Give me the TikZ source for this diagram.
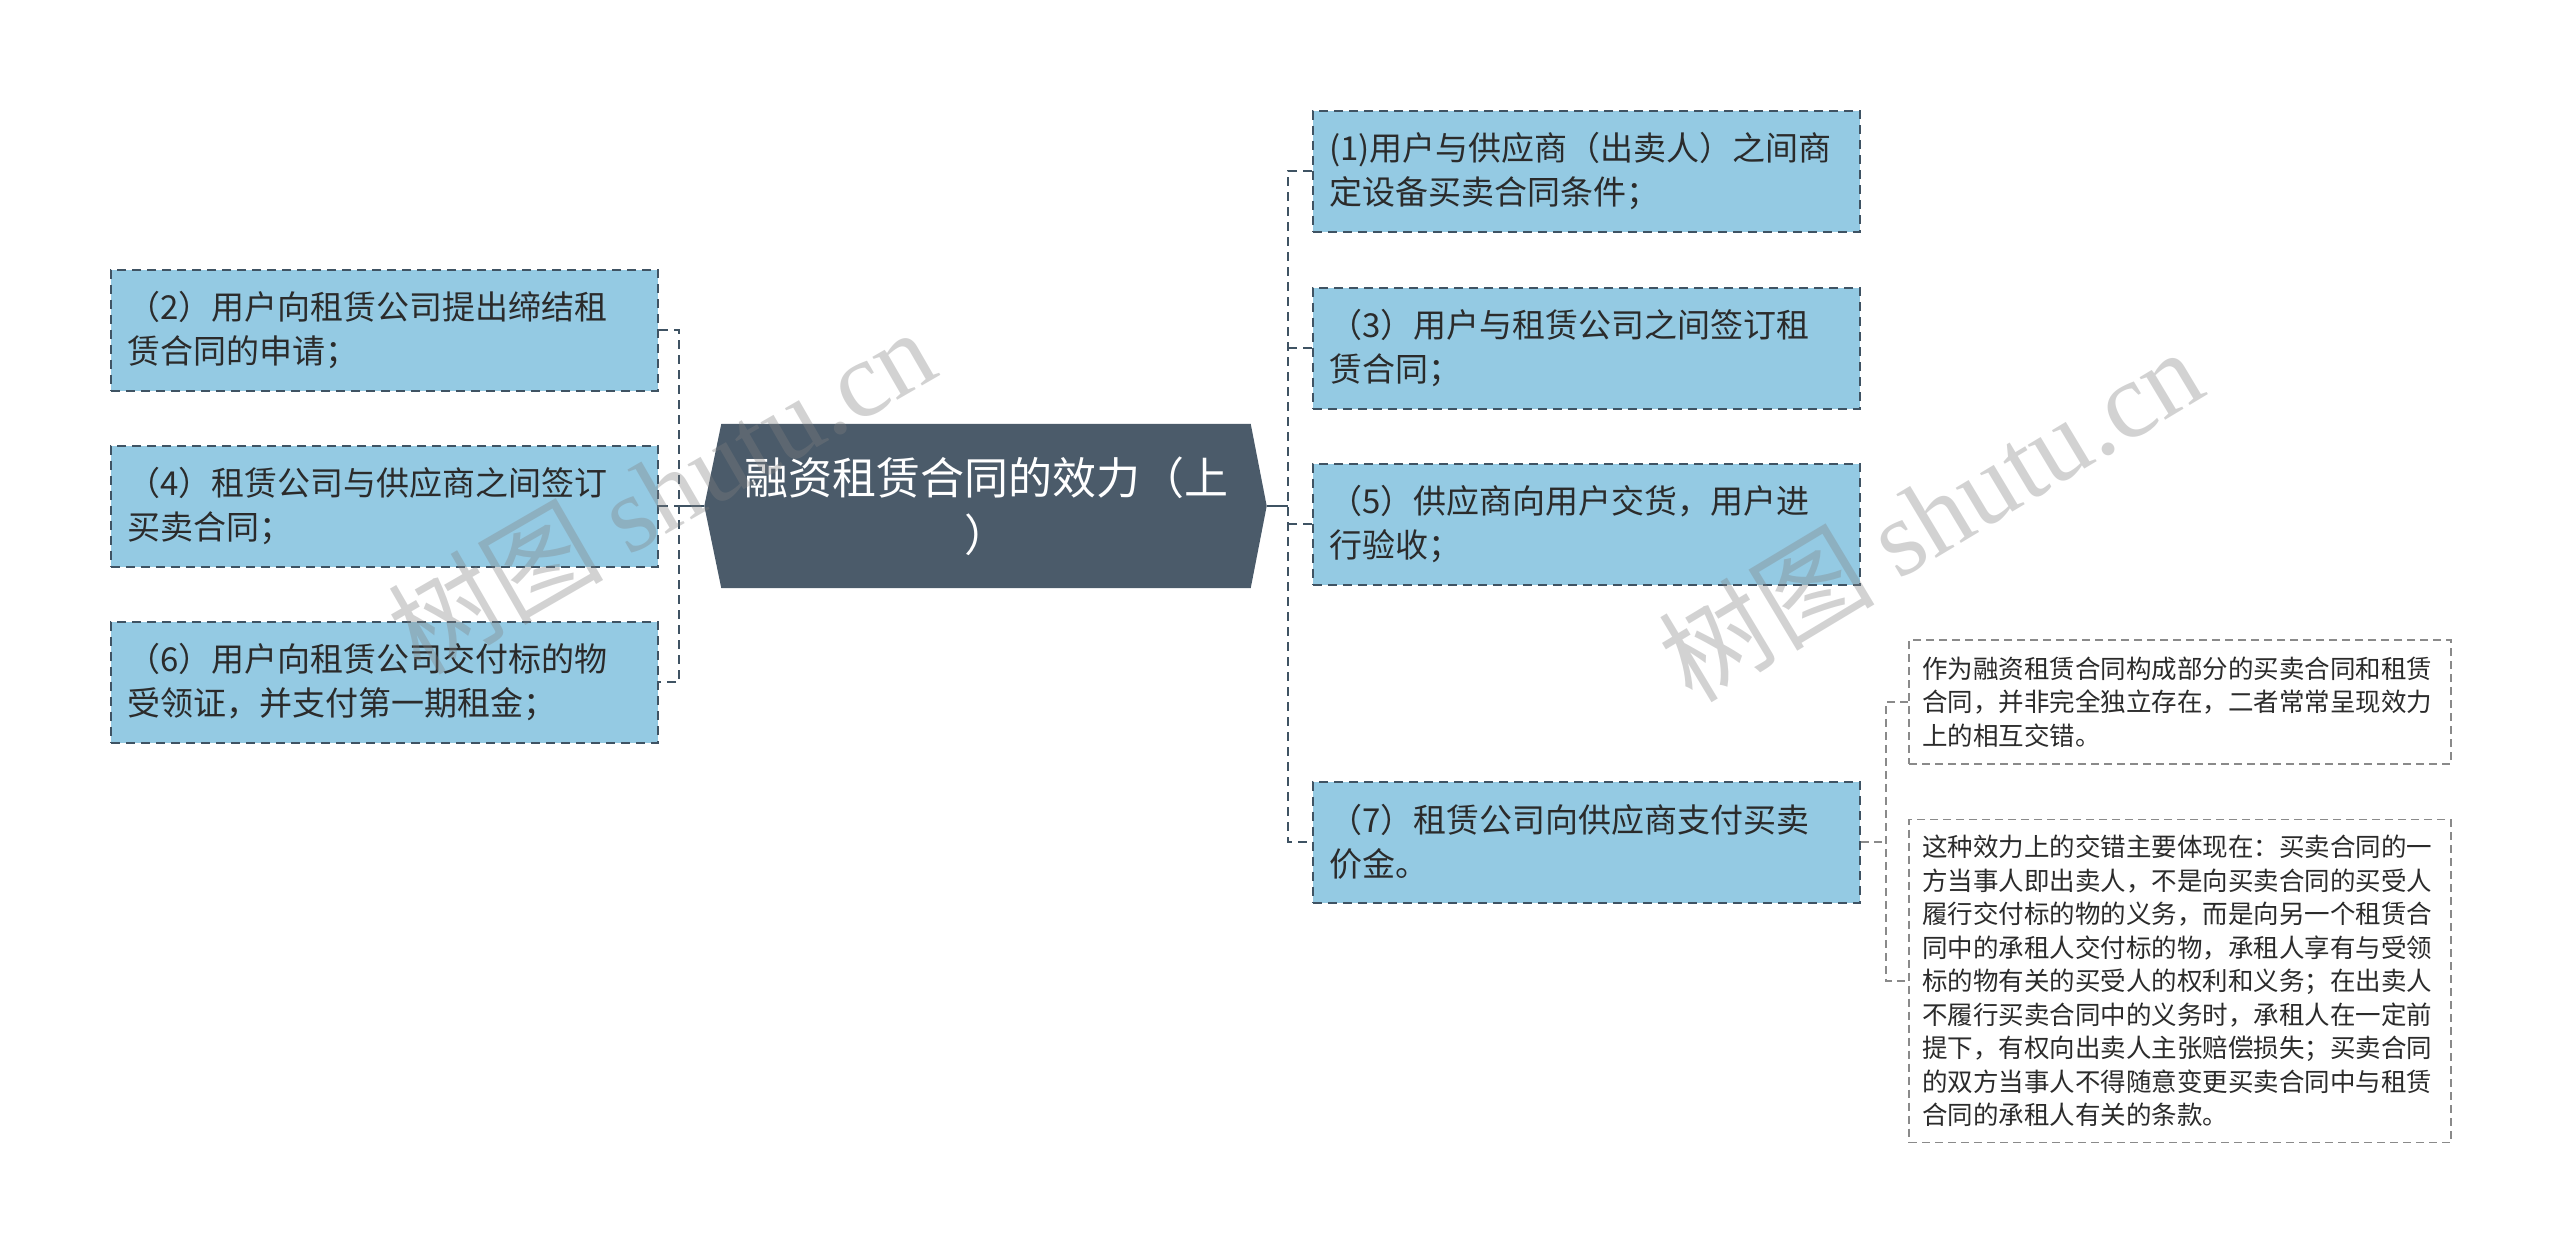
\documentclass[tikz,border=0pt]{standalone}
\usepackage{fontspec}
\setmainfont{Noto Sans CJK SC}
\newfontfamily\wmlatin{Liberation Serif}
\usetikzlibrary{backgrounds,calc}
\definecolor{boxfill}{HTML}{94CAE3}
\definecolor{boxline}{HTML}{3F5363}
\definecolor{hubfill}{HTML}{4B5B6A}
\definecolor{txt}{HTML}{2B2B2B}
\definecolor{farline}{HTML}{8A8A8A}
\begin{document}
\begin{tikzpicture}[x=1pt,y=-1pt,
  item/.style={draw=boxline, fill=boxfill, dash pattern=on 9pt off 6pt, line width=2pt,
    minimum width=547pt, minimum height=121pt, text width=515pt, align=left,
    inner sep=16pt, font=\fontsize{33}{44}\selectfont, text=txt},
  far/.style={draw=farline, fill=white, dash pattern=on 8pt off 5pt, line width=1.8pt,
    minimum width=542pt, text width=516pt, align=left,
    inner sep=13pt, font=\fontsize{25.5}{33.5}\selectfont, text=txt},
  hub/.style={minimum width=529pt, minimum height=164pt, inner sep=0pt, align=center,
    text=white, font=\fontsize{44}{57}\selectfont},
  conn/.style={draw=boxline, line width=2.5pt, dash pattern=on 9pt off 6pt},
  subconn/.style={draw=farline, line width=1.8pt, dash pattern=on 8pt off 5pt},
  hubline/.style={draw=boxline, line width=2.5pt},
  wmark/.style={text=gray, opacity=0.35, font=\fontsize{108}{108}\selectfont}
]
\useasboundingbox (0,0) rectangle (2560,1254);

% central node
\node[hub] (hub) at (986,506) {融资租赁合同的效力（上\\）};
\coordinate (hubL) at ($(hub.west)+(-17,0)$);
\coordinate (hubR) at ($(hub.east)+(16,0)$);
\begin{scope}[on background layer]
\fill[white] (0,0) rectangle (2560,1254);
\fill[hubfill] (hub.north west) -- (hub.north east) -- (hubR) -- (hub.south east)
  -- (hub.south west) -- (hubL) -- cycle;
\end{scope}

% left items
\node[item] (l2) at (384.5,330) {（2）用户向租赁公司提出缔结租\\赁合同的申请；};
\node[item] (l4) at (384.5,506) {（4）租赁公司与供应商之间签订\\买卖合同；};
\node[item] (l6) at (384.5,682) {（6）用户向租赁公司交付标的物\\受领证，并支付第一期租金；};

% right items
\node[item] (r1) at (1586.5,171) {(1)用户与供应商（出卖人）之间商\\定设备买卖合同条件；};
\node[item] (r3) at (1586.5,348) {（3）用户与租赁公司之间签订租\\赁合同；};
\node[item] (r5) at (1586.5,524) {（5）供应商向用户交货，用户进\\行验收；};
\node[item] (r7) at (1586.5,842) {（7）租赁公司向供应商支付买卖\\价金。};

% far notes
\node[far, minimum height=124pt] (fa) at (2180,702) {作为融资租赁合同构成部分的买卖合同和租赁\\合同，并非完全独立存在，二者常常呈现效力\\上的相互交错。};
\node[far, minimum height=323pt] (fb) at (2180,981) {这种效力上的交错主要体现在：买卖合同的一\\方当事人即出卖人，不是向买卖合同的买受人\\履行交付标的物的义务，而是向另一个租赁合\\同中的承租人交付标的物，承租人享有与受领\\标的物有关的买受人的权利和义务；在出卖人\\不履行买卖合同中的义务时，承租人在一定前\\提下，有权向出卖人主张赔偿损失；买卖合同\\的双方当事人不得随意变更买卖合同中与租赁\\合同的承租人有关的条款。};

% brackets
\coordinate (lbr) at (679,506);
\coordinate (rbr) at (1288,506);
\coordinate (sbr) at (1886,842);

\draw[hubline] (hubL) -- (lbr);
\draw[conn] (l2.east) -- (l2.east -| lbr) -- (l6.east -| lbr) -- (l6.east);
\draw[conn] (l4.east) -- (lbr);

\draw[hubline] (hubR) -- (rbr);
\draw[conn] (r1.west) -- (r1.west -| rbr) -- (r7.west -| rbr) -- (r7.west);
\draw[conn] (r3.west) -- (r3.west -| rbr);
\draw[conn] (r5.west) -- (r5.west -| rbr);

\draw[subconn] (r7.east) -- (sbr);
\draw[subconn] (fa.west) -- (fa.west -| sbr) -- (fb.west -| sbr) -- (fb.west);

% watermarks
\node[wmark, rotate=30] (wm1) at (661,490) {树图 {\wmlatin shutu.cn}};
\node[wmark, rotate=31] (wm2) at (1930,514) {树图 {\wmlatin shutu.cn}};
\end{tikzpicture}
\end{document}
